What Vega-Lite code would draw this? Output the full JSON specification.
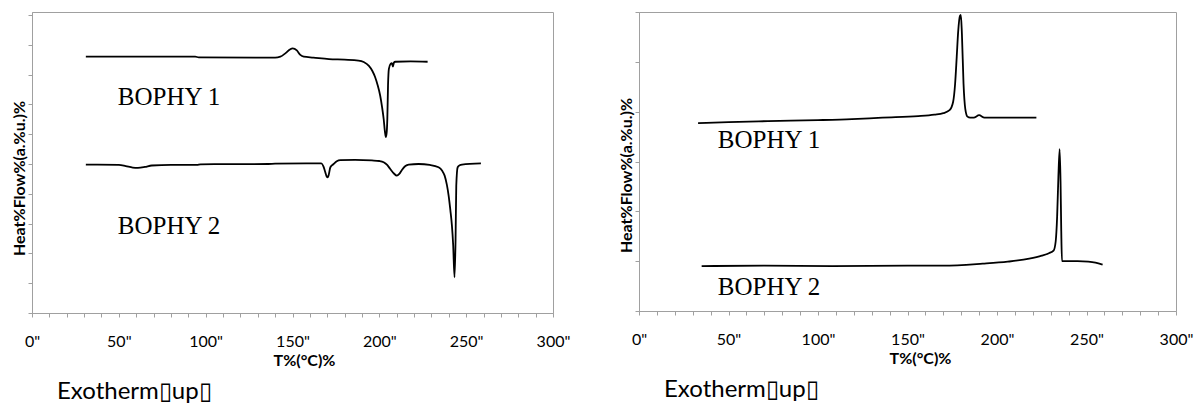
{
  "$schema": "https://vega.github.io/schema/vega-lite/v6.json",
  "background": "white",
  "padding": {"top": 10, "left": 11, "right": 0, "bottom": 0},
  "bounds": "flush",
  "spacing": 86,
  "config": {
    "font": "Lato",
    "view": {"stroke": "#a0a0a0", "strokeWidth": 1},
    "axis": {
      "grid": false,
      "domainColor": "#a0a0a0",
      "tickColor": "#a0a0a0",
      "tickSize": 4,
      "labelFont": "Lato",
      "labelFontSize": 16,
      "labelColor": "#000000",
      "labelPadding": 16,
      "titleFont": "Lato",
      "titleFontWeight": "bold",
      "titleFontSize": 16,
      "titleColor": "#000000"
    },
    "title": {
      "font": "Lato",
      "fontSize": 24,
      "fontWeight": "normal",
      "color": "#000000",
      "orient": "bottom",
      "anchor": "start",
      "frame": "group",
      "dx": 25,
      "offset": 12
    }
  },
  "datasets": {
    "dscLeft": [
      {"T": 31, "hf": 8.60, "s": "BOPHY 1"},
      {"T": 60, "hf": 8.60, "s": "BOPHY 1"},
      {"T": 94, "hf": 8.60, "s": "BOPHY 1"},
      {"T": 96, "hf": 8.58, "s": "BOPHY 1"},
      {"T": 132, "hf": 8.57, "s": "BOPHY 1"},
      {"T": 140, "hf": 8.57, "s": "BOPHY 1"},
      {"T": 143, "hf": 8.60, "s": "BOPHY 1"},
      {"T": 146, "hf": 8.72, "s": "BOPHY 1"},
      {"T": 148.5, "hf": 8.84, "s": "BOPHY 1"},
      {"T": 150.1, "hf": 8.88, "s": "BOPHY 1"},
      {"T": 152.5, "hf": 8.81, "s": "BOPHY 1"},
      {"T": 154.5, "hf": 8.66, "s": "BOPHY 1"},
      {"T": 156.5, "hf": 8.60, "s": "BOPHY 1"},
      {"T": 162, "hf": 8.57, "s": "BOPHY 1"},
      {"T": 171, "hf": 8.52, "s": "BOPHY 1"},
      {"T": 180, "hf": 8.50, "s": "BOPHY 1"},
      {"T": 188, "hf": 8.47, "s": "BOPHY 1"},
      {"T": 191, "hf": 8.42, "s": "BOPHY 1"},
      {"T": 194, "hf": 8.29, "s": "BOPHY 1"},
      {"T": 196, "hf": 8.12, "s": "BOPHY 1"},
      {"T": 197.6, "hf": 7.91, "s": "BOPHY 1"},
      {"T": 199, "hf": 7.65, "s": "BOPHY 1"},
      {"T": 200.5, "hf": 7.29, "s": "BOPHY 1"},
      {"T": 201.6, "hf": 6.90, "s": "BOPHY 1"},
      {"T": 202.5, "hf": 6.51, "s": "BOPHY 1"},
      {"T": 203.3, "hf": 6.05, "s": "BOPHY 1"},
      {"T": 203.8, "hf": 5.90, "s": "BOPHY 1"},
      {"T": 204.3, "hf": 6.10, "s": "BOPHY 1"},
      {"T": 204.6, "hf": 6.51, "s": "BOPHY 1"},
      {"T": 205.0, "hf": 7.63, "s": "BOPHY 1"},
      {"T": 205.5, "hf": 8.19, "s": "BOPHY 1"},
      {"T": 206.5, "hf": 8.36, "s": "BOPHY 1"},
      {"T": 207.2, "hf": 8.38, "s": "BOPHY 1"},
      {"T": 207.8, "hf": 8.27, "s": "BOPHY 1"},
      {"T": 208.4, "hf": 8.40, "s": "BOPHY 1"},
      {"T": 209.2, "hf": 8.43, "s": "BOPHY 1"},
      {"T": 218, "hf": 8.44, "s": "BOPHY 1"},
      {"T": 227.8, "hf": 8.43, "s": "BOPHY 1"},
      {"T": 31, "hf": 4.98, "s": "BOPHY 2"},
      {"T": 50, "hf": 4.97, "s": "BOPHY 2"},
      {"T": 54, "hf": 4.93, "s": "BOPHY 2"},
      {"T": 58, "hf": 4.88, "s": "BOPHY 2"},
      {"T": 61, "hf": 4.87, "s": "BOPHY 2"},
      {"T": 65, "hf": 4.90, "s": "BOPHY 2"},
      {"T": 69, "hf": 4.95, "s": "BOPHY 2"},
      {"T": 80, "hf": 4.97, "s": "BOPHY 2"},
      {"T": 95, "hf": 4.97, "s": "BOPHY 2"},
      {"T": 97, "hf": 4.99, "s": "BOPHY 2"},
      {"T": 136, "hf": 5.00, "s": "BOPHY 2"},
      {"T": 140, "hf": 5.01, "s": "BOPHY 2"},
      {"T": 158, "hf": 5.02, "s": "BOPHY 2"},
      {"T": 166.6, "hf": 5.02, "s": "BOPHY 2"},
      {"T": 167.8, "hf": 4.92, "s": "BOPHY 2"},
      {"T": 168.8, "hf": 4.74, "s": "BOPHY 2"},
      {"T": 169.7, "hf": 4.58, "s": "BOPHY 2"},
      {"T": 170.2, "hf": 4.55, "s": "BOPHY 2"},
      {"T": 170.8, "hf": 4.62, "s": "BOPHY 2"},
      {"T": 171.8, "hf": 4.89, "s": "BOPHY 2"},
      {"T": 173.7, "hf": 5.00, "s": "BOPHY 2"},
      {"T": 175.5, "hf": 5.09, "s": "BOPHY 2"},
      {"T": 177.5, "hf": 5.13, "s": "BOPHY 2"},
      {"T": 186, "hf": 5.14, "s": "BOPHY 2"},
      {"T": 195.7, "hf": 5.12, "s": "BOPHY 2"},
      {"T": 200, "hf": 5.10, "s": "BOPHY 2"},
      {"T": 202.5, "hf": 5.06, "s": "BOPHY 2"},
      {"T": 204.5, "hf": 4.97, "s": "BOPHY 2"},
      {"T": 206.3, "hf": 4.83, "s": "BOPHY 2"},
      {"T": 208.4, "hf": 4.68, "s": "BOPHY 2"},
      {"T": 210.1, "hf": 4.61, "s": "BOPHY 2"},
      {"T": 211.5, "hf": 4.67, "s": "BOPHY 2"},
      {"T": 213, "hf": 4.80, "s": "BOPHY 2"},
      {"T": 215, "hf": 4.93, "s": "BOPHY 2"},
      {"T": 216.9, "hf": 4.98, "s": "BOPHY 2"},
      {"T": 222.6, "hf": 5.00, "s": "BOPHY 2"},
      {"T": 229, "hf": 4.97, "s": "BOPHY 2"},
      {"T": 234.1, "hf": 4.89, "s": "BOPHY 2"},
      {"T": 236.2, "hf": 4.77, "s": "BOPHY 2"},
      {"T": 237.6, "hf": 4.61, "s": "BOPHY 2"},
      {"T": 238.9, "hf": 4.30, "s": "BOPHY 2"},
      {"T": 239.9, "hf": 3.94, "s": "BOPHY 2"},
      {"T": 240.9, "hf": 3.45, "s": "BOPHY 2"},
      {"T": 241.8, "hf": 2.93, "s": "BOPHY 2"},
      {"T": 242.5, "hf": 2.30, "s": "BOPHY 2"},
      {"T": 243.3, "hf": 1.20, "s": "BOPHY 2"},
      {"T": 243.9, "hf": 2.48, "s": "BOPHY 2"},
      {"T": 244.3, "hf": 4.27, "s": "BOPHY 2"},
      {"T": 245.1, "hf": 4.89, "s": "BOPHY 2"},
      {"T": 246.3, "hf": 4.96, "s": "BOPHY 2"},
      {"T": 247.6, "hf": 4.98, "s": "BOPHY 2"},
      {"T": 258.5, "hf": 5.02, "s": "BOPHY 2"}
    ],
    "dscRight": [
      {"T": 33, "hf": 3.77, "s": "BOPHY 1"},
      {"T": 50, "hf": 3.79, "s": "BOPHY 1"},
      {"T": 72, "hf": 3.81, "s": "BOPHY 1"},
      {"T": 100, "hf": 3.83, "s": "BOPHY 1"},
      {"T": 119, "hf": 3.85, "s": "BOPHY 1"},
      {"T": 136, "hf": 3.88, "s": "BOPHY 1"},
      {"T": 156, "hf": 3.91, "s": "BOPHY 1"},
      {"T": 165, "hf": 3.94, "s": "BOPHY 1"},
      {"T": 170, "hf": 3.97, "s": "BOPHY 1"},
      {"T": 173.5, "hf": 4.03, "s": "BOPHY 1"},
      {"T": 175.5, "hf": 4.20, "s": "BOPHY 1"},
      {"T": 176.6, "hf": 4.56, "s": "BOPHY 1"},
      {"T": 177.5, "hf": 5.10, "s": "BOPHY 1"},
      {"T": 178.3, "hf": 5.60, "s": "BOPHY 1"},
      {"T": 179.3, "hf": 5.92, "s": "BOPHY 1"},
      {"T": 179.8, "hf": 5.94, "s": "BOPHY 1"},
      {"T": 180.4, "hf": 5.56, "s": "BOPHY 1"},
      {"T": 181.3, "hf": 4.56, "s": "BOPHY 1"},
      {"T": 182.3, "hf": 4.05, "s": "BOPHY 1"},
      {"T": 183.5, "hf": 3.90, "s": "BOPHY 1"},
      {"T": 185, "hf": 3.88, "s": "BOPHY 1"},
      {"T": 187, "hf": 3.88, "s": "BOPHY 1"},
      {"T": 190, "hf": 3.93, "s": "BOPHY 1"},
      {"T": 193, "hf": 3.88, "s": "BOPHY 1"},
      {"T": 200, "hf": 3.88, "s": "BOPHY 1"},
      {"T": 210, "hf": 3.88, "s": "BOPHY 1"},
      {"T": 222, "hf": 3.88, "s": "BOPHY 1"},
      {"T": 35, "hf": 0.90, "s": "BOPHY 2"},
      {"T": 70, "hf": 0.91, "s": "BOPHY 2"},
      {"T": 108, "hf": 0.90, "s": "BOPHY 2"},
      {"T": 150, "hf": 0.91, "s": "BOPHY 2"},
      {"T": 170, "hf": 0.91, "s": "BOPHY 2"},
      {"T": 192, "hf": 0.95, "s": "BOPHY 2"},
      {"T": 206, "hf": 0.99, "s": "BOPHY 2"},
      {"T": 218, "hf": 1.05, "s": "BOPHY 2"},
      {"T": 225, "hf": 1.11, "s": "BOPHY 2"},
      {"T": 229, "hf": 1.16, "s": "BOPHY 2"},
      {"T": 231.6, "hf": 1.21, "s": "BOPHY 2"},
      {"T": 232.8, "hf": 1.40, "s": "BOPHY 2"},
      {"T": 233.6, "hf": 1.90, "s": "BOPHY 2"},
      {"T": 234.3, "hf": 2.70, "s": "BOPHY 2"},
      {"T": 235.0, "hf": 3.25, "s": "BOPHY 2"},
      {"T": 235.5, "hf": 2.60, "s": "BOPHY 2"},
      {"T": 235.9, "hf": 1.60, "s": "BOPHY 2"},
      {"T": 236.3, "hf": 1.00, "s": "BOPHY 2"},
      {"T": 245, "hf": 1.00, "s": "BOPHY 2"},
      {"T": 251, "hf": 0.99, "s": "BOPHY 2"},
      {"T": 255, "hf": 0.97, "s": "BOPHY 2"},
      {"T": 259, "hf": 0.93, "s": "BOPHY 2"}
    ],
    "tagsLeft": [
      {"T": 49.4, "hf": 7.25, "label": "BOPHY 1"},
      {"T": 49.4, "hf": 2.92, "label": "BOPHY 2"}
    ],
    "tagsRight": [
      {"T": 44, "hf": 3.43, "label": "BOPHY 1"},
      {"T": 44, "hf": 0.49, "label": "BOPHY 2"}
    ]
  },
  "hconcat": [
    {
      "width": 521,
      "height": 301,
      "title": {"text": "Exotherm▯up▯"},
      "encoding": {
        "x": {
          "field": "T", "type": "quantitative",
          "scale": {"domain": [0, 300], "nice": false},
          "axis": {
            "values": [0, 10, 20, 30, 40, 50, 60, 70, 80, 90, 100, 110, 120, 130, 140, 150, 160, 170, 180, 190, 200, 210, 220, 230, 240, 250, 260, 270, 280, 290, 300],
            "labelExpr": "datum.value % 50 === 0 ? datum.value + '\"' : ''",
            "labelOverlap": false,
            "labelFlush": false,
            "title": "T%(°C)%",
            "titlePadding": 3,
            "titleX": 272
          }
        },
        "y": {
          "field": "hf", "type": "quantitative",
          "scale": {"domain": [0, 10.1], "nice": false, "zero": false},
          "axis": {
            "values": [0, 1, 2, 3, 4, 5, 6, 7, 8, 9, 10],
            "labels": false,
            "title": "Heat%Flow%(a.%u.)%",
            "titlePadding": 0,
            "titleY": 166
          }
        }
      },
      "layer": [
        {
          "data": {"name": "dscLeft"},
          "mark": {"type": "line", "color": "#000000", "strokeWidth": 1.8, "interpolate": "monotone"},
          "encoding": {"detail": {"field": "s"}}
        },
        {
          "data": {"name": "tagsLeft"},
          "mark": {"type": "text", "font": "Liberation Serif", "fontSize": 25, "align": "left", "baseline": "middle", "color": "#000000"},
          "encoding": {"text": {"field": "label"}}
        }
      ]
    },
    {
      "width": 537,
      "height": 299,
      "title": {"text": "Exotherm▯up▯"},
      "encoding": {
        "x": {
          "field": "T", "type": "quantitative",
          "scale": {"domain": [0, 300], "nice": false},
          "axis": {
            "values": [0, 10, 20, 30, 40, 50, 60, 70, 80, 90, 100, 110, 120, 130, 140, 150, 160, 170, 180, 190, 200, 210, 220, 230, 240, 250, 260, 270, 280, 290, 300],
            "labelExpr": "datum.value % 50 === 0 ? datum.value + '\"' : ''",
            "labelOverlap": false,
            "labelFlush": false,
            "title": "T%(°C)%",
            "titlePadding": 3,
            "titleX": 281
          }
        },
        "y": {
          "field": "hf", "type": "quantitative",
          "scale": {"domain": [0, 6], "nice": false, "zero": false},
          "axis": {
            "values": [0, 1, 2, 3, 4, 5, 6],
            "labels": false,
            "title": "Heat%Flow%(a.%u.)%",
            "titlePadding": 0,
            "titleY": 163
          }
        }
      },
      "layer": [
        {
          "data": {"name": "dscRight"},
          "mark": {"type": "line", "color": "#000000", "strokeWidth": 1.8, "interpolate": "monotone"},
          "encoding": {"detail": {"field": "s"}}
        },
        {
          "data": {"name": "tagsRight"},
          "mark": {"type": "text", "font": "Liberation Serif", "fontSize": 25, "align": "left", "baseline": "middle", "color": "#000000"},
          "encoding": {"text": {"field": "label"}}
        }
      ]
    }
  ]
}
